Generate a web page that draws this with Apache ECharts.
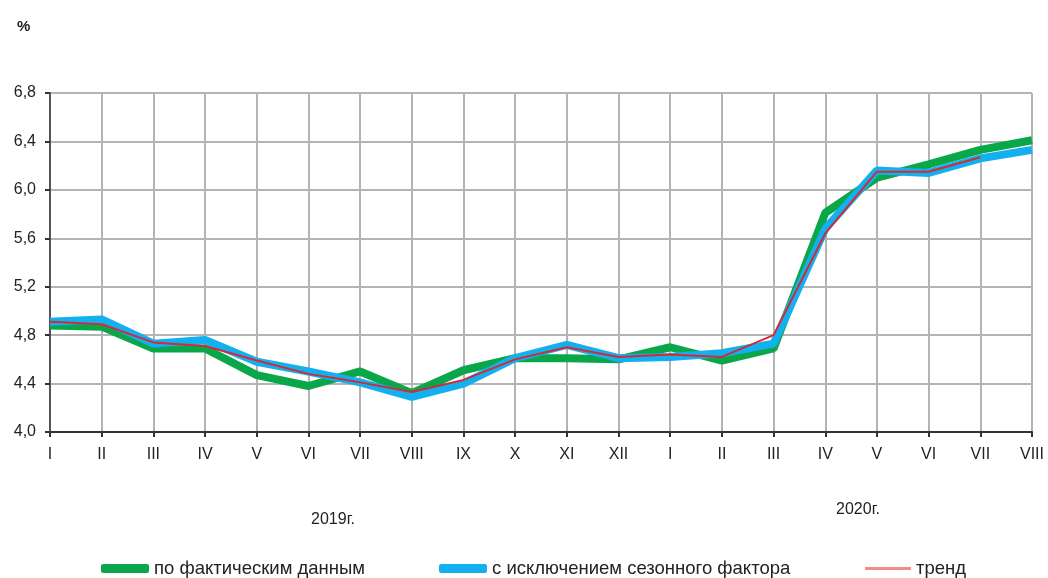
<!DOCTYPE html>
<html>
<head>
<meta charset="utf-8">
<script src="https://cdn.jsdelivr.net/npm/echarts@6/dist/echarts.min.js"></script>
<style>
  html, body { margin: 0; padding: 0; background: #fff; }
  #chart { width: 1048px; height: 578px; }
</style>
</head>
<body>
<div id="chart"></div>
<script>
// months: 2019 I..XII, 2020 I..VIII
var months = ['I', 'II', 'III', 'IV', 'V', 'VI', 'VII', 'VIII', 'IX', 'X', 'XI', 'XII',
              'I', 'II', 'III', 'IV', 'V', 'VI', 'VII', 'VIII'];

// по фактическим данным
var actual = [4.88, 4.87, 4.69, 4.69, 4.47, 4.38, 4.50, 4.32, 4.51, 4.61, 4.61, 4.60,
              4.70, 4.59, 4.69, 5.81, 6.10, 6.21, 6.33, 6.41];
// с исключением сезонного фактора
var seasAdj = [4.91, 4.93, 4.73, 4.76, 4.58, 4.50, 4.41, 4.29, 4.40, 4.61, 4.72, 4.61,
               4.62, 4.65, 4.73, 5.68, 6.16, 6.14, 6.26, 6.33];
// тренд (no value for VIII 2020)
var trend = [4.91, 4.89, 4.74, 4.71, 4.59, 4.48, 4.41, 4.33, 4.43, 4.60, 4.70, 4.62,
             4.64, 4.62, 4.80, 5.64, 6.15, 6.15, 6.27, null];

var yearLabels = ['2019г.', '2020г.'];
var legendNames = ['по фактическим данным', 'с исключением сезонного фактора', 'тренд'];

var font = '"Liberation Sans", Arial, sans-serif';

var chart = echarts.init(document.getElementById('chart'));

var legendBase = {
  top: 554,
  itemWidth: 48,
  itemHeight: 9,
  itemGap: 0,
  textStyle: { fontFamily: font, fontSize: 18.5, color: '#222' },
  selectedMode: false
};

chart.setOption({
  backgroundColor: '#fff',
  animation: false,
  grid: { left: 50, right: 16, top: 93, bottom: 146 },
  graphic: [
    { type: 'text', left: 17, top: 19, style: { text: '%', font: 'bold 15px ' + font, fill: '#222' } },
    { type: 'text', x: 333, y: 520, style: { text: yearLabels[0], font: '16px ' + font, fill: '#222', align: 'center', verticalAlign: 'middle' } },
    { type: 'text', x: 858, y: 510, style: { text: yearLabels[1], font: '16px ' + font, fill: '#222', align: 'center', verticalAlign: 'middle' } }
  ],
  legend: [
    Object.assign({}, legendBase, {
      left: 96, data: [{ name: legendNames[0], icon: 'roundRect', itemStyle: { color: '#0aa64a' } }]
    }),
    Object.assign({}, legendBase, {
      left: 434, data: [{ name: legendNames[1], icon: 'roundRect', itemStyle: { color: '#12b0ee' } }]
    }),
    Object.assign({}, legendBase, {
      left: 860, itemWidth: 46, itemHeight: 3,
      data: [{ name: legendNames[2], icon: 'rect', itemStyle: { color: '#f4888a' } }]
    })
  ],
  xAxis: {
    type: 'category',
    data: months,
    boundaryGap: false,
    axisLine: { show: true, lineStyle: { color: '#333', width: 2 } },
    axisTick: { show: true, alignWithLabel: true, length: 5, lineStyle: { color: '#333', width: 2 } },
    axisLabel: { margin: 15, fontFamily: font, fontSize: 16, color: '#222', interval: 0 },
    splitLine: { show: true, lineStyle: { color: '#b4b4b4', width: 2 } }
  },
  yAxis: {
    type: 'value',
    min: 4.0,
    max: 6.8,
    interval: 0.4,
    axisLine: { show: true, lineStyle: { color: '#555', width: 2 } },
    axisTick: { show: true, length: 5, lineStyle: { color: '#333', width: 2 } },
    axisLabel: {
      margin: 14, fontFamily: font, fontSize: 16, color: '#222',
      formatter: function (v) { return v.toFixed(1).replace('.', ','); }
    },
    splitLine: { show: true, lineStyle: { color: '#b4b4b4', width: 2 } }
  },
  series: [
    {
      name: legendNames[0], type: 'line', data: actual, showSymbol: false,
      lineStyle: { color: '#0aa64a', width: 8 }, itemStyle: { color: '#0aa64a' }
    },
    {
      name: legendNames[1], type: 'line', data: seasAdj, showSymbol: false,
      lineStyle: { color: '#12b0ee', width: 8 }, itemStyle: { color: '#12b0ee' }
    },
    {
      name: legendNames[2], type: 'line', data: trend, showSymbol: false,
      lineStyle: { color: '#d42a35', width: 2 }, itemStyle: { color: '#f4888a' }
    }
  ]
});
</script>
</body>
</html>
